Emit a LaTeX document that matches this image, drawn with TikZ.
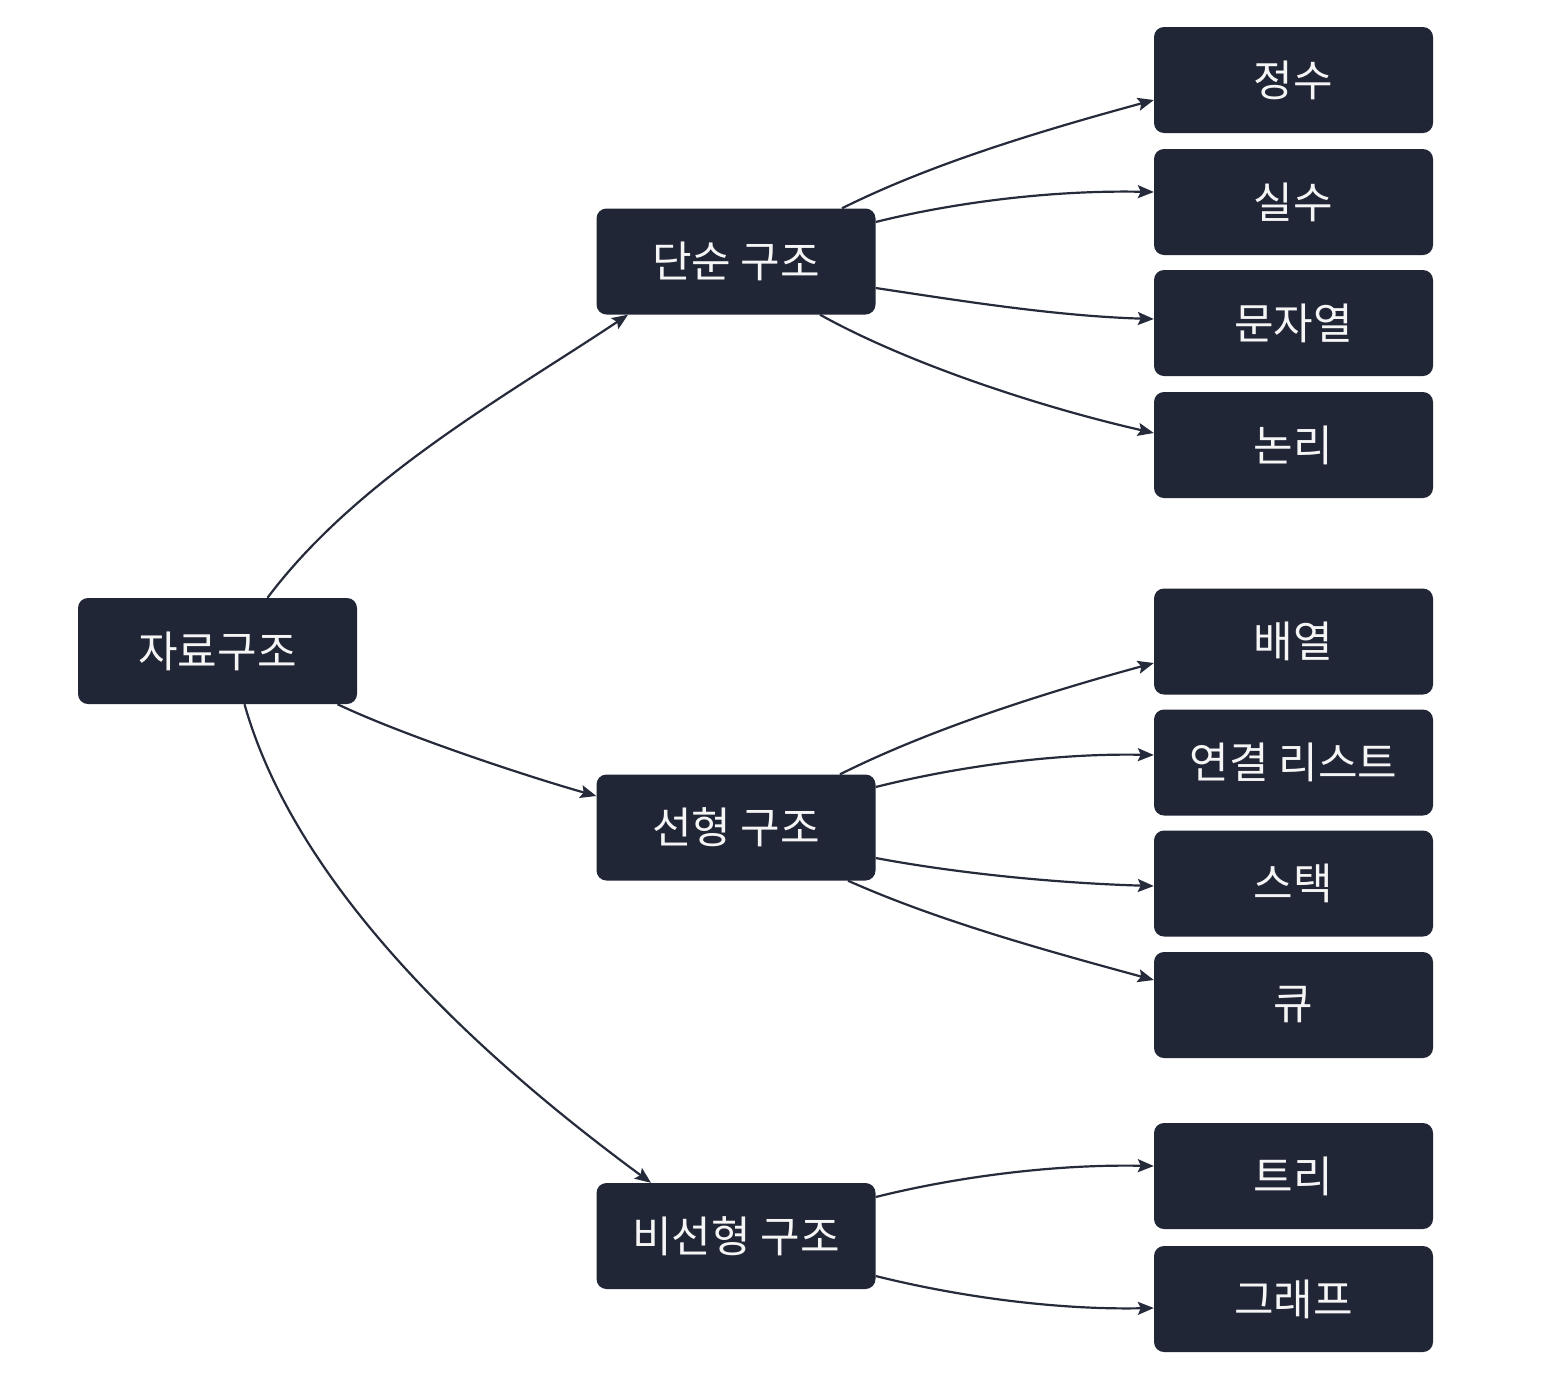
\documentclass[tikz,border=0pt]{standalone}
\usepackage{fontspec}
\newfontfamily\krfont{Noto Sans CJK KR}
\usetikzlibrary{arrows.meta,calc}
\definecolor{boxfill}{HTML}{212636}
\definecolor{edgecol}{HTML}{262B3B}
\tikzset{
  box/.style={draw=none, fill=boxfill, rounded corners=10pt, minimum width=279pt, minimum height=106pt,
    text=white!96!black, inner sep=0pt, font=\krfont\fontsize{43}{50}\selectfont},
  conn/.style={draw=edgecol, line width=2.2pt, -{Stealth[length=16pt,width=13pt,inset=3pt]}}
}
\begin{document}
\begin{tikzpicture}[x=1pt,y=-1pt]
\useasboundingbox (0,0) rectangle (1552,1382);
\fill[white] (0,0) rectangle (1552,1382);
% nodes
\node[box] (root) at (217.5,651) {\raisebox{-3pt}{자료구조}};
\node[box] (s1) at (736,261.5) {\raisebox{-3pt}{단순 구조}};
\node[box] (l1) at (736,827.5) {\raisebox{-3pt}{선형 구조}};
\node[box] (n1) at (736,1236) {\raisebox{-3pt}{비선형 구조}};
\node[box] (a1) at (1293.5,80) {\raisebox{-3pt}{정수}};
\node[box] (a2) at (1293.5,202) {\raisebox{-3pt}{실수}};
\node[box] (a3) at (1293.5,323) {\raisebox{-3pt}{문자열}};
\node[box] (a4) at (1293.5,445) {\raisebox{-3pt}{논리}};
\node[box] (b1) at (1293.5,641.5) {\raisebox{-3pt}{배열}};
\node[box] (b2) at (1293.5,762.5) {\raisebox{-3pt}{연결 리스트}};
\node[box] (b3) at (1293.5,883.5) {\raisebox{-3pt}{스택}};
\node[box] (b4) at (1293.5,1005) {\raisebox{-3pt}{큐}};
\node[box] (c1) at (1293.5,1176) {\raisebox{-3pt}{트리}};
\node[box] (c2) at (1293.5,1299) {\raisebox{-3pt}{그래프}};
% root edges
\draw[conn] ($(root.north)+(50,0)$) .. controls +(90,-120) and +(-120,80) .. ($(s1.south)+(-108,0)$);
\draw[conn] ($(root.south)+(120,0)$) .. controls +(63,30) and +(-74,-21) .. ($(l1.west)+(0,-31.5)$);
\draw[conn] ($(root.south)+(27,0)$) .. controls +(55,195) and +(-151,-111) .. ($(n1.north)+(-85,0)$);
% simple
\draw[conn] ($(s1.north)+(106,0)$) .. controls +(90,-45) and +(-110,30) .. ($(a1.west)+(0,20)$);
\draw[conn] ($(s1.east)+(0,-39.5)$) .. controls +(80,-20) and +(-100,-2) .. ($(a2.west)+(0,-10)$);
\draw[conn] ($(s1.east)+(0,26.5)$) .. controls +(80,12) and +(-100,-3) .. ($(a3.west)+(0,-4)$);
\draw[conn] ($(s1.south)+(84,0)$) .. controls +(90,50) and +(-110,-25) .. ($(a4.west)+(0,-12)$);
% linear
\draw[conn] ($(l1.north)+(104,0)$) .. controls +(90,-45) and +(-110,30) .. ($(b1.west)+(0,21.5)$);
\draw[conn] ($(l1.east)+(0,-40.5)$) .. controls +(80,-20) and +(-100,-2) .. ($(b2.west)+(0,-7.5)$);
\draw[conn] ($(l1.east)+(0,30.5)$) .. controls +(80,15) and +(-100,-3) .. ($(b3.west)+(0,2.5)$);
\draw[conn] ($(l1.south)+(112,0)$) .. controls +(90,40) and +(-110,-30) .. ($(b4.west)+(0,-25)$);
% nonlinear
\draw[conn] ($(n1.east)+(0,-39)$) .. controls +(80,-20) and +(-100,-2) .. ($(c1.west)+(0,-10)$);
\draw[conn] ($(n1.east)+(0,40)$) .. controls +(80,20) and +(-100,2) .. ($(c2.west)+(0,9)$);
\end{tikzpicture}
\end{document}
